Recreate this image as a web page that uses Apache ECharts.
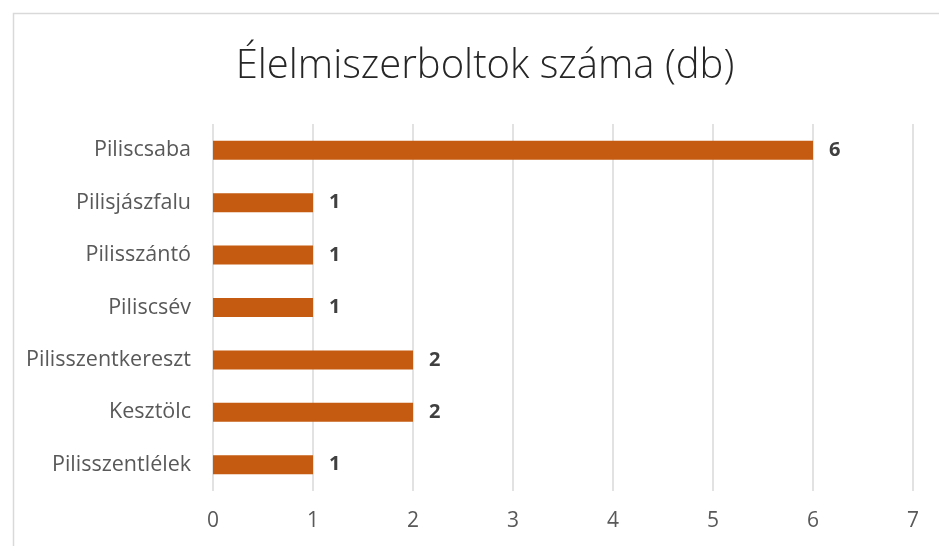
<!DOCTYPE html>
<html>
<head>
<meta charset="utf-8">
<script src="https://cdn.jsdelivr.net/npm/echarts@6/dist/echarts.min.js"></script>
<style>
  html, body { margin: 0; padding: 0; background: #fff; }
  #chart { width: 939px; height: 546px; }
</style>
</head>
<body>
<div id="chart"></div>
<script>
// Number of grocery stores per settlement
const settlements = ['Piliscsaba', 'Pilisjászfalu', 'Pilisszántó', 'Piliscsév', 'Pilisszentkereszt', 'Kesztölc', 'Pilisszentlélek'];
const storeCounts = [6, 1, 1, 1, 2, 2, 1];
const titleText = 'Élelmiszerboltok száma (db)';

const font = '"Open Sans", "Noto Sans", sans-serif';
const chart = echarts.init(document.getElementById('chart'), null, { renderer: 'canvas' });

chart.setOption({
  animation: false,
  backgroundColor: '#ffffff',
  graphic: [{
    type: 'rect',
    shape: { x: 13.5, y: 13.5, width: 1000, height: 600 },
    style: { fill: 'none', stroke: '#d9d9d9', lineWidth: 1.5 },
    silent: true,
    z: -10
  }],
  title: {
    text: titleText,
    left: 480,
    textAlign: 'center',
    top: 42,
    textStyle: { fontFamily: font, fontSize: 40, fontWeight: 300, color: '#262626' }
  },
  grid: { left: 213, right: 26, top: 124, bottom: 55 },
  xAxis: {
    type: 'value',
    min: 0,
    max: 7,
    interval: 1,
    axisLine: { show: false },
    axisTick: { show: false },
    splitLine: { lineStyle: { color: '#d9d9d9', width: 1.5 } },
    axisLabel: { fontFamily: font, fontSize: 21, color: '#595959', margin: 20 }
  },
  yAxis: {
    type: 'category',
    data: settlements,
    inverse: true,
    axisLine: { show: false },
    axisTick: { show: false },
    axisLabel: { fontFamily: font, fontSize: 21.5, color: '#595959', margin: 22 }
  },
  series: [{
    type: 'bar',
    data: storeCounts,
    barWidth: 19,
    itemStyle: { color: '#c55a11' },
    label: {
      show: true,
      position: 'right',
      distance: 16,
      fontFamily: font,
      fontSize: 20,
      fontWeight: 'bold',
      color: '#404040'
    }
  }]
});
</script>
</body>
</html>
